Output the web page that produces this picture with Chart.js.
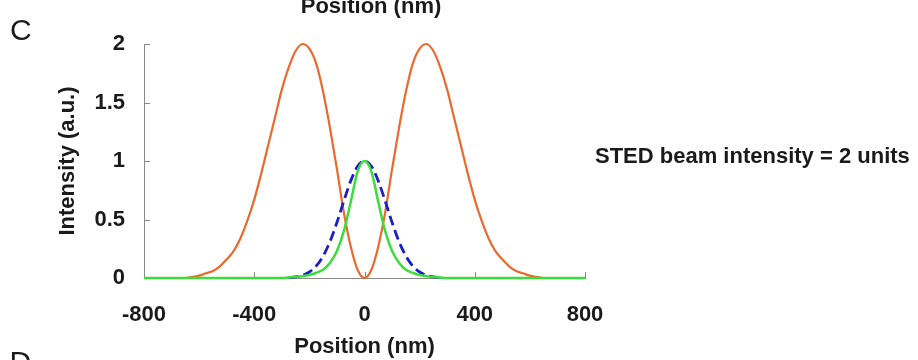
<!DOCTYPE html>
<html>
<head>
<meta charset="utf-8">
<title>STED intensity profiles</title>
<script src="https://cdn.jsdelivr.net/npm/chart.js@4/dist/chart.umd.min.js"></script>
<style>
  html, body { margin: 0; padding: 0; background: #ffffff; }
  #wrap { width: 918px; height: 360px; }
</style>
</head>
<body>
<div id="wrap"><canvas id="chart" width="918" height="360"></canvas></div>
<script>
// Sample positions along the scan line (nm)
const positions = [
  -800, -775, -750, -725, -700, -675, -650, -625, -600, -575, -550, -525, -500,
  -475, -450, -425, -400, -375, -350, -325, -300, -275, -250, -225, -200, -175,
  -150, -125, -100, -75, -50, -25, 0, 25, 50, 75, 100, 125, 150, 175, 200, 225,
  250, 275, 300, 325, 350, 375, 400, 425, 450, 475, 500, 525, 550, 575, 600,
  625, 650, 675, 700, 725, 750, 775, 800
];

// STED (depletion) beam, doughnut profile with a zero at the centre
const stedBeam = [
  0, 0, 0, 0, 0, 0, 0, 0.01, 0.02, 0.04, 0.06, 0.10, 0.16,
  0.23, 0.34, 0.49, 0.67, 0.89, 1.13, 1.37, 1.61, 1.80, 1.94, 2.0, 1.96, 1.83,
  1.59, 1.28, 0.93, 0.56, 0.27, 0.07, 0, 0.07, 0.27, 0.56, 0.93, 1.28, 1.59, 1.83, 1.96, 2.0,
  1.94, 1.80, 1.61, 1.37, 1.13, 0.89, 0.67, 0.49, 0.34, 0.23, 0.16, 0.10, 0.06, 0.04, 0.02,
  0.01, 0, 0, 0, 0, 0, 0, 0
];

// Excitation spot (confocal), dashed
const excitation = [
  null, null, null, null, null, null, null, null, null, null, null, null, null,
  null, null, null, null, null, null, null, null, 0.004, 0.010, 0.023, 0.051, 0.103,
  0.188, 0.313, 0.475, 0.658, 0.830, 0.955, 1.0, 0.955, 0.830, 0.658, 0.475, 0.313, 0.188, 0.103, 0.051, 0.023,
  0.010, 0.004, null, null, null, null, null, null, null, null, null, null, null, null, null,
  null, null, null, null, null, null, null, null
];

// Effective fluorescence spot after depletion
const effective = [
  0, 0, 0, 0, 0, 0, 0, 0, 0, 0, 0, 0, 0,
  0, 0, 0, 0, 0, 0, 0, 0, 0.005, 0.010, 0.015, 0.025, 0.045,
  0.07, 0.13, 0.23, 0.40, 0.65, 0.91, 1.0, 0.91, 0.65, 0.40, 0.23, 0.13, 0.07, 0.045, 0.025, 0.015,
  0.010, 0.005, 0, 0, 0, 0, 0, 0, 0, 0, 0, 0, 0, 0, 0,
  0, 0, 0, 0, 0, 0, 0, 0
];

// Axis ticks
const xTicks = [-800, -400, 0, 400, 800];
const yTicks = [0, 0.5, 1, 1.5, 2];

const toPoints = values => positions.map((x, i) => ({ x: x, y: values[i] }));

const FONT = "'Liberation Sans', Arial, Helvetica, sans-serif";
const AXIS_GREY = '#8a8a8a';
const TEXT = '#1a1a1a';

Chart.defaults.font.family = FONT;
Chart.defaults.color = TEXT;

// Short tick marks pointing into the plot, plus the panel annotations
const panelDecor = {
  id: 'panelDecor',
  beforeDatasetsDraw(chart) {
    const ctx = chart.ctx;
    const xs = chart.scales.x, ys = chart.scales.y;
    const area = chart.chartArea;
    ctx.save();
    ctx.strokeStyle = AXIS_GREY;
    ctx.lineWidth = 1;
    ctx.beginPath();
    yTicks.forEach(v => {
      const py = Math.round(ys.getPixelForValue(v)) + 0.5;
      ctx.moveTo(area.left, py);
      ctx.lineTo(area.left + 6, py);
    });
    xTicks.forEach(v => {
      const px = Math.round(xs.getPixelForValue(v)) + 0.5;
      ctx.moveTo(px, area.bottom);
      ctx.lineTo(px, area.bottom - 6);
    });
    ctx.stroke();
    ctx.restore();
  },
  afterDraw(chart) {
    const ctx = chart.ctx;
    ctx.save();
    ctx.fillStyle = TEXT;
    ctx.textBaseline = 'alphabetic';

    // axis caption of the panel above
    ctx.font = 'bold 22px ' + FONT;
    ctx.textAlign = 'center';
    ctx.fillText('Position (nm)', 371, 13);

    // panel letters
    ctx.font = '30px ' + FONT;
    ctx.textAlign = 'left';
    ctx.fillText('C', 10, 39.5);
    ctx.fillText('D', 9.5, 371.5);

    // condition note
    ctx.font = 'bold 22px ' + FONT;
    ctx.fillText('STED beam intensity = 2 units', 595, 163);
    ctx.restore();
  }
};

new Chart(document.getElementById('chart'), {
  type: 'line',
  data: {
    datasets: [
      {
        label: 'Effective spot',
        data: toPoints(effective),
        borderColor: '#3ddc3d',
        borderWidth: 2.5,
        pointRadius: 0,
        cubicInterpolationMode: 'monotone',
        clip: false
      },
      {
        label: 'Excitation',
        data: toPoints(excitation),
        borderColor: '#1c1fc4',
        borderWidth: 2.8,
        borderDash: [10, 5],
        pointRadius: 0,
        cubicInterpolationMode: 'monotone',
        spanGaps: false,
        clip: false
      },
      {
        label: 'STED beam',
        data: toPoints(stedBeam),
        borderColor: '#ea6a2e',
        borderWidth: 2.2,
        pointRadius: 0,
        cubicInterpolationMode: 'monotone',
        clip: false
      }
    ]
  },
  options: {
    responsive: false,
    devicePixelRatio: 1,
    animation: false,
    events: [],
    layout: { padding: { left: 0, right: 333, top: 44, bottom: 0 } },
    plugins: {
      legend: { display: false },
      tooltip: { enabled: false },
      title: { display: false }
    },
    scales: {
      x: {
        type: 'linear',
        min: -800,
        max: 800,
        afterFit: s => { s.height = 82; },
        afterBuildTicks: s => { s.ticks = xTicks.map(v => ({ value: v })); },
        grid: { display: false, drawTicks: false },
        border: { display: true, color: AXIS_GREY, width: 1 },
        ticks: {
          padding: 24,
          color: TEXT,
          font: { size: 22, weight: 'bold' },
          maxRotation: 0,
          callback: v => String(v)
        },
        title: {
          display: true,
          text: 'Position (nm)',
          color: TEXT,
          font: { size: 22, weight: 'bold' },
          padding: { top: 5, bottom: 0 }
        }
      },
      y: {
        type: 'linear',
        min: 0,
        max: 2,
        afterFit: s => { s.width = 144; },
        afterBuildTicks: s => { s.ticks = yTicks.map(v => ({ value: v })); },
        grid: { display: false, drawTicks: false },
        border: { display: true, color: AXIS_GREY, width: 1 },
        ticks: {
          padding: 19,
          color: TEXT,
          font: { size: 22, weight: 'bold' },
          callback: v => String(v)
        },
        title: {
          display: true,
          text: 'Intensity (a.u.)',
          color: TEXT,
          font: { size: 22, weight: 'bold' },
          padding: { top: 55, bottom: 0 }
        }
      }
    }
  },
  plugins: [panelDecor]
});
</script>
</body>
</html>
